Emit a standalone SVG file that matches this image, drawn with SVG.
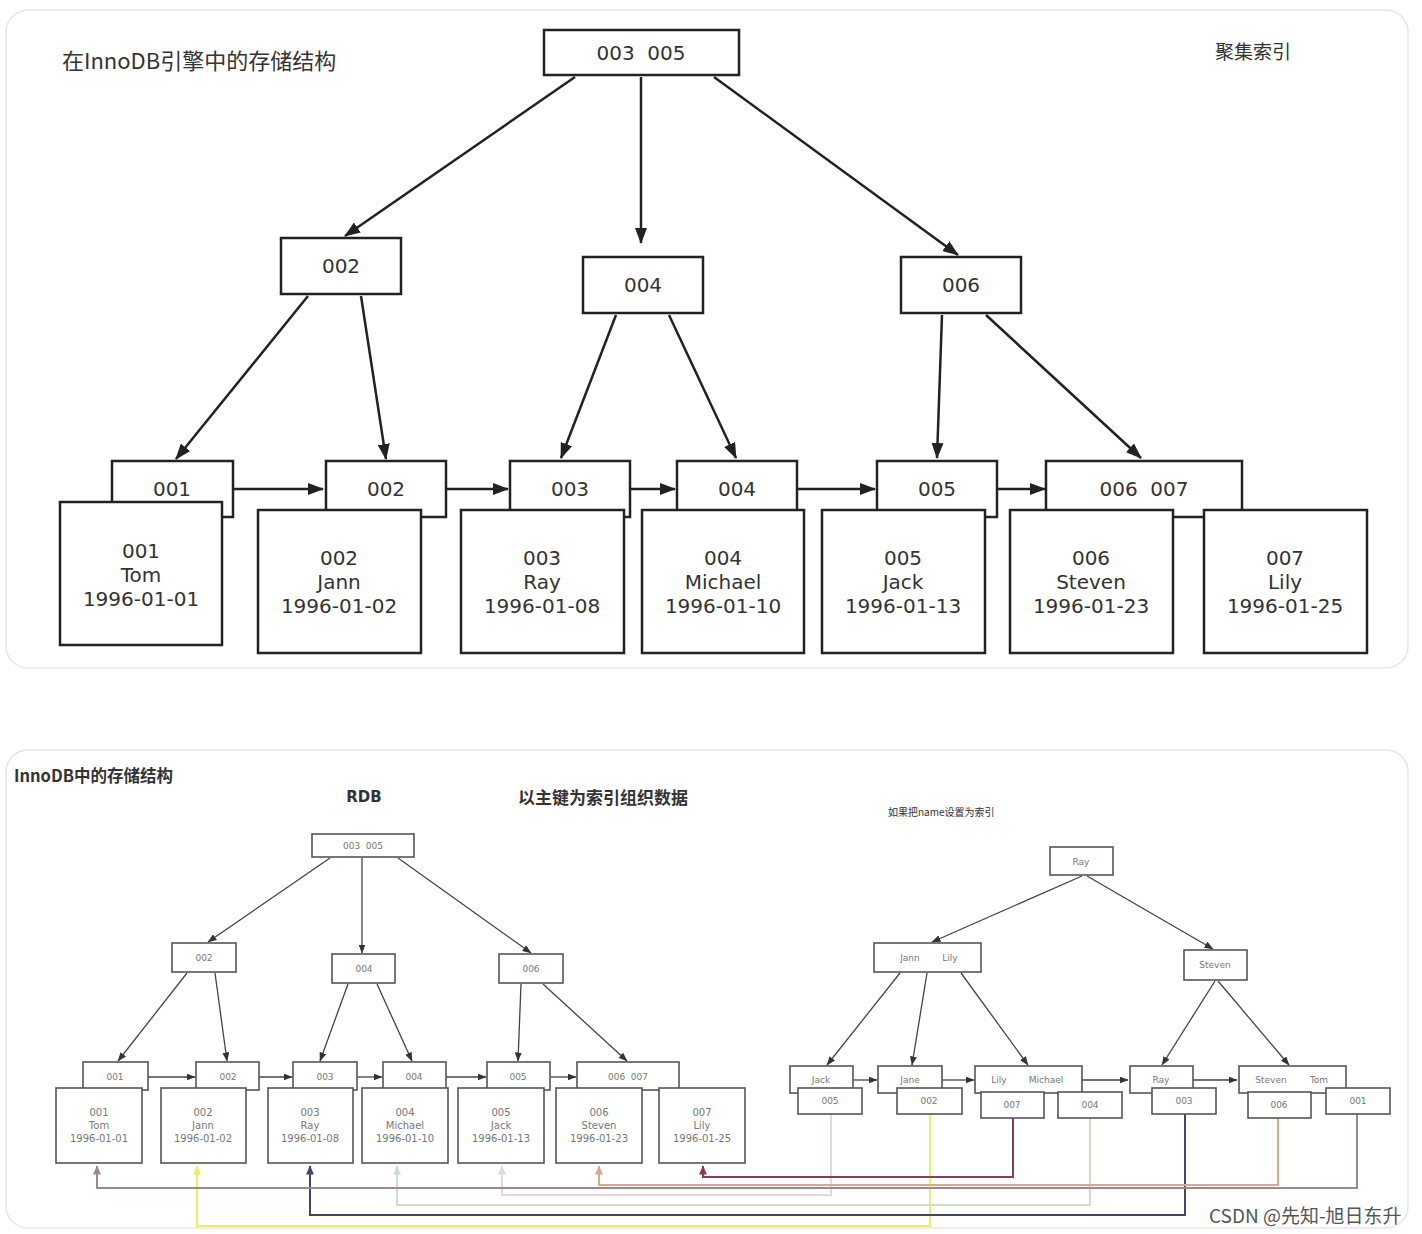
<svg xmlns="http://www.w3.org/2000/svg" width="1422" height="1234" viewBox="0 0 1422 1234">
<style>
text{white-space:pre}
.panel{fill:#fff;stroke:#e6e6e6;stroke-width:1.5}
.big rect{fill:#fff;stroke:#222;stroke-width:2.5}
.big text{font-family:"DejaVu Sans",sans-serif;font-size:20px;fill:#333;text-anchor:middle}
.sm rect{fill:#fff;stroke:#555;stroke-width:1.6}
.sm text{font-family:"DejaVu Sans",sans-serif;font-size:9px;fill:#777;text-anchor:middle}
.sd text{font-size:10px}
.bigc line{stroke:#222;stroke-width:2.5;marker-end:url(#ab)}
.smc line{stroke:#444;stroke-width:1.3;marker-end:url(#as)}
.ptr path{fill:none;stroke-width:2}
.title{font-family:"Noto Sans CJK SC",sans-serif;fill:#333}
</style>
<defs>
<marker id="ab" markerWidth="16" markerHeight="12" refX="15" refY="6" orient="auto" markerUnits="userSpaceOnUse"><path d="M0,0 L16,6 L0,12 z" fill="#222"/></marker>
<marker id="as" markerWidth="9" markerHeight="7" refX="8.5" refY="3.5" orient="auto" markerUnits="userSpaceOnUse"><path d="M0,0 L9,3.5 L0,7 z" fill="#333"/></marker>
<marker id="ar" markerWidth="9" markerHeight="8" refX="8.5" refY="4" orient="auto" markerUnits="userSpaceOnUse"><path d="M0,0 L9,4 L0,8 z" fill="context-stroke"/></marker>
</defs>
<rect width="1422" height="1234" fill="#fff"/>
<rect class="panel" x="6" y="10" width="1402" height="658" rx="22"/>
<rect class="panel" x="6" y="750" width="1402" height="478" rx="22"/>

<text class="title" x="62" y="69" font-size="22">在InnoDB引擎中的存储结构</text>
<text class="title" x="1215" y="59" font-size="19">聚集索引</text>

<g class="bigc" id="top-connectors">
<line x1="575" y1="77" x2="345" y2="236"/>
<line x1="641" y1="77" x2="641" y2="243"/>
<line x1="714" y1="77" x2="958" y2="255"/>
<line x1="308" y1="296" x2="176" y2="459"/>
<line x1="361" y1="296" x2="386" y2="459"/>
<line x1="616" y1="315" x2="561" y2="458"/>
<line x1="669" y1="315" x2="736" y2="458"/>
<line x1="942" y1="315" x2="937" y2="458"/>
<line x1="986" y1="315" x2="1141" y2="458"/>
<line x1="233" y1="489" x2="323" y2="489"/>
<line x1="446" y1="489" x2="508" y2="489"/>
<line x1="630" y1="489" x2="675" y2="489"/>
<line x1="797" y1="489" x2="875" y2="489"/>
<line x1="997" y1="489" x2="1045" y2="489"/>
</g>

<g class="big">
<g id="t-root"><rect x="544" y="30" width="195" height="45"/><text x="641" y="60">003  005</text></g>
<g id="t-002"><rect x="281" y="238" width="120" height="56"/><text x="341" y="273">002</text></g>
<g id="t-004"><rect x="583" y="257" width="120" height="56"/><text x="643" y="292">004</text></g>
<g id="t-006"><rect x="901" y="257" width="120" height="56"/><text x="961" y="292">006</text></g>
<g id="t-k001"><rect x="112" y="461" width="121" height="56"/><text x="172" y="496">001</text></g>
<g id="t-k002"><rect x="326" y="461" width="120" height="56"/><text x="386" y="496">002</text></g>
<g id="t-k003"><rect x="510" y="461" width="120" height="56"/><text x="570" y="496">003</text></g>
<g id="t-k004"><rect x="677" y="461" width="120" height="56"/><text x="737" y="496">004</text></g>
<g id="t-k005"><rect x="877" y="461" width="120" height="56"/><text x="937" y="496">005</text></g>
<g id="t-k006"><rect x="1046" y="461" width="196" height="56"/><text x="1144" y="496">006  007</text></g>
<g id="t-d001"><rect x="60" y="502" width="162" height="143"/><text x="141" y="558">001</text><text x="141" y="582">Tom</text><text x="141" y="606">1996-01-01</text></g>
<g id="t-d002"><rect x="258" y="510" width="163" height="143"/><text x="339" y="565">002</text><text x="339" y="589">Jann</text><text x="339" y="613">1996-01-02</text></g>
<g id="t-d003"><rect x="461" y="510" width="163" height="143"/><text x="542" y="565">003</text><text x="542" y="589">Ray</text><text x="542" y="613">1996-01-08</text></g>
<g id="t-d004"><rect x="642" y="510" width="162" height="143"/><text x="723" y="565">004</text><text x="723" y="589">Michael</text><text x="723" y="613">1996-01-10</text></g>
<g id="t-d005"><rect x="822" y="510" width="163" height="143"/><text x="903" y="565">005</text><text x="903" y="589">Jack</text><text x="903" y="613">1996-01-13</text></g>
<g id="t-d006"><rect x="1010" y="510" width="163" height="143"/><text x="1091" y="565">006</text><text x="1091" y="589">Steven</text><text x="1091" y="613">1996-01-23</text></g>
<g id="t-d007"><rect x="1204" y="510" width="163" height="143"/><text x="1285" y="565">007</text><text x="1285" y="589">Lily</text><text x="1285" y="613">1996-01-25</text></g>
</g>

<text class="title" x="14" y="782" font-size="16.5" font-weight="bold">InnoDB中的存储结构</text>
<text x="364" y="802" font-family="'DejaVu Sans',sans-serif" font-size="15" font-weight="bold" fill="#333" text-anchor="middle">RDB</text>
<text class="title" x="518" y="804" font-size="17" font-weight="bold">以主键为索引组织数据</text>
<text class="title" x="888" y="816" font-size="10" fill="#777">如果把name设置为索引</text>

<g class="smc" id="bottom-connectors">
<line x1="330" y1="858" x2="208" y2="942"/>
<line x1="362" y1="858" x2="362" y2="953"/>
<line x1="398" y1="858" x2="531" y2="953"/>
<line x1="187" y1="973" x2="118" y2="1061"/>
<line x1="215" y1="973" x2="227" y2="1061"/>
<line x1="348" y1="984" x2="320" y2="1061"/>
<line x1="377" y1="984" x2="412" y2="1061"/>
<line x1="521" y1="984" x2="518" y2="1061"/>
<line x1="543" y1="984" x2="627" y2="1061"/>
<line x1="148" y1="1077" x2="195" y2="1077"/>
<line x1="259" y1="1077" x2="292" y2="1077"/>
<line x1="357" y1="1077" x2="382" y2="1077"/>
<line x1="446" y1="1077" x2="486" y2="1077"/>
<line x1="550" y1="1077" x2="576" y2="1077"/>
<line x1="1082" y1="876" x2="932" y2="942"/>
<line x1="1087" y1="876" x2="1213" y2="949"/>
<line x1="900" y1="973" x2="827" y2="1065"/>
<line x1="927" y1="973" x2="912" y2="1065"/>
<line x1="961" y1="973" x2="1028" y2="1065"/>
<line x1="1215" y1="981" x2="1162" y2="1065"/>
<line x1="1218" y1="981" x2="1289" y2="1065"/>
<line x1="853" y1="1080" x2="877" y2="1080"/>
<line x1="942" y1="1080" x2="974" y2="1080"/>
<line x1="1082" y1="1080" x2="1128" y2="1080"/>
<line x1="1193" y1="1080" x2="1237" y2="1080"/>
</g>

<g class="ptr" id="pointer-connectors">
<path d="M831,1114 V1195 H502 V1166" stroke="#e9d6d9" stroke-width="1.5" marker-end="url(#ar)"/>
<path d="M930,1114 V1226 H197 V1166" stroke="#eeee66" stroke-width="1.5" marker-end="url(#ar)"/>
<path d="M1090,1118 V1205 H397 V1166" stroke="#c8e0c8" stroke-width="1.5" marker-end="url(#ar)"/>
<path d="M1185,1114 V1215 H310 V1166" stroke="#454560" marker-end="url(#ar)"/>
<path d="M1357,1114 V1188 H97 V1166" stroke="#9a8a8e" marker-end="url(#ar)"/>
<path d="M1278,1118 V1185 H599 V1166" stroke="#d8a890" stroke-width="1.5" marker-end="url(#ar)"/>
<path d="M1013,1118 V1177 H703 V1166" stroke="#8a3a60" marker-end="url(#ar)"/>
</g>

<g class="sm">
<g id="b-root"><rect x="312" y="834" width="102" height="23"/><text x="363" y="849">003  005</text></g>
<g id="b-002"><rect x="172" y="943" width="64" height="29"/><text x="204" y="961">002</text></g>
<g id="b-004"><rect x="332" y="954" width="63" height="29"/><text x="364" y="972">004</text></g>
<g id="b-006"><rect x="499" y="954" width="64" height="29"/><text x="531" y="972">006</text></g>
<g id="b-k001"><rect x="83" y="1062" width="65" height="28"/><text x="115" y="1080">001</text></g>
<g id="b-k002"><rect x="196" y="1062" width="63" height="28"/><text x="228" y="1080">002</text></g>
<g id="b-k003"><rect x="293" y="1062" width="64" height="28"/><text x="325" y="1080">003</text></g>
<g id="b-k004"><rect x="383" y="1062" width="63" height="28"/><text x="414" y="1080">004</text></g>
<g id="b-k005"><rect x="487" y="1062" width="63" height="28"/><text x="518" y="1080">005</text></g>
<g id="b-k006"><rect x="577" y="1062" width="102" height="28"/><text x="628" y="1080">006  007</text></g>
<g class="sd">
<g id="b-d001"><rect x="56" y="1088" width="86" height="75"/><text x="99" y="1116">001</text><text x="99" y="1129">Tom</text><text x="99" y="1142">1996-01-01</text></g>
<g id="b-d002"><rect x="161" y="1088" width="85" height="75"/><text x="203" y="1116">002</text><text x="203" y="1129">Jann</text><text x="203" y="1142">1996-01-02</text></g>
<g id="b-d003"><rect x="268" y="1088" width="85" height="75"/><text x="310" y="1116">003</text><text x="310" y="1129">Ray</text><text x="310" y="1142">1996-01-08</text></g>
<g id="b-d004"><rect x="362" y="1088" width="86" height="75"/><text x="405" y="1116">004</text><text x="405" y="1129">Michael</text><text x="405" y="1142">1996-01-10</text></g>
<g id="b-d005"><rect x="458" y="1088" width="86" height="75"/><text x="501" y="1116">005</text><text x="501" y="1129">Jack</text><text x="501" y="1142">1996-01-13</text></g>
<g id="b-d006"><rect x="556" y="1088" width="86" height="75"/><text x="599" y="1116">006</text><text x="599" y="1129">Steven</text><text x="599" y="1142">1996-01-23</text></g>
<g id="b-d007"><rect x="659" y="1088" width="86" height="75"/><text x="702" y="1116">007</text><text x="702" y="1129">Lily</text><text x="702" y="1142">1996-01-25</text></g>
</g>
<g id="n-ray"><rect x="1050" y="847" width="63" height="28"/><text x="1081" y="865">Ray</text></g>
<g id="n-jannlily"><rect x="874" y="943" width="107" height="29"/><text x="910" y="961">Jann</text><text x="950" y="961">Lily</text></g>
<g id="n-steven"><rect x="1184" y="950" width="63" height="30"/><text x="1215" y="968">Steven</text></g>
<g id="n-jack"><rect x="790" y="1066" width="63" height="27"/><text x="821" y="1083">Jack</text></g>
<g id="n-jane"><rect x="878" y="1066" width="64" height="27"/><text x="910" y="1083">Jane</text></g>
<g id="n-lilymichael"><rect x="975" y="1066" width="107" height="27"/><text x="999" y="1083">Lily</text><text x="1046" y="1083">Michael</text></g>
<g id="n-rayleaf"><rect x="1130" y="1066" width="63" height="27"/><text x="1161" y="1083">Ray</text></g>
<g id="n-steventom"><rect x="1239" y="1066" width="107" height="27"/><text x="1271" y="1083">Steven</text><text x="1319" y="1083">Tom</text></g>
<g id="p-005"><rect x="798" y="1088" width="64" height="26"/><text x="830" y="1104">005</text></g>
<g id="p-002"><rect x="897" y="1088" width="65" height="26"/><text x="929" y="1104">002</text></g>
<g id="p-007"><rect x="981" y="1092" width="63" height="26"/><text x="1012" y="1108">007</text></g>
<g id="p-004"><rect x="1058" y="1092" width="64" height="26"/><text x="1090" y="1108">004</text></g>
<g id="p-003"><rect x="1152" y="1088" width="64" height="26"/><text x="1184" y="1104">003</text></g>
<g id="p-006"><rect x="1248" y="1092" width="63" height="26"/><text x="1279" y="1108">006</text></g>
<g id="p-001"><rect x="1326" y="1088" width="64" height="26"/><text x="1358" y="1104">001</text></g>
</g>

<text x="1209" y="1223" font-family="'Noto Sans CJK SC',sans-serif" font-size="19" fill="#555">CSDN @先知-旭日东升</text>
</svg>
